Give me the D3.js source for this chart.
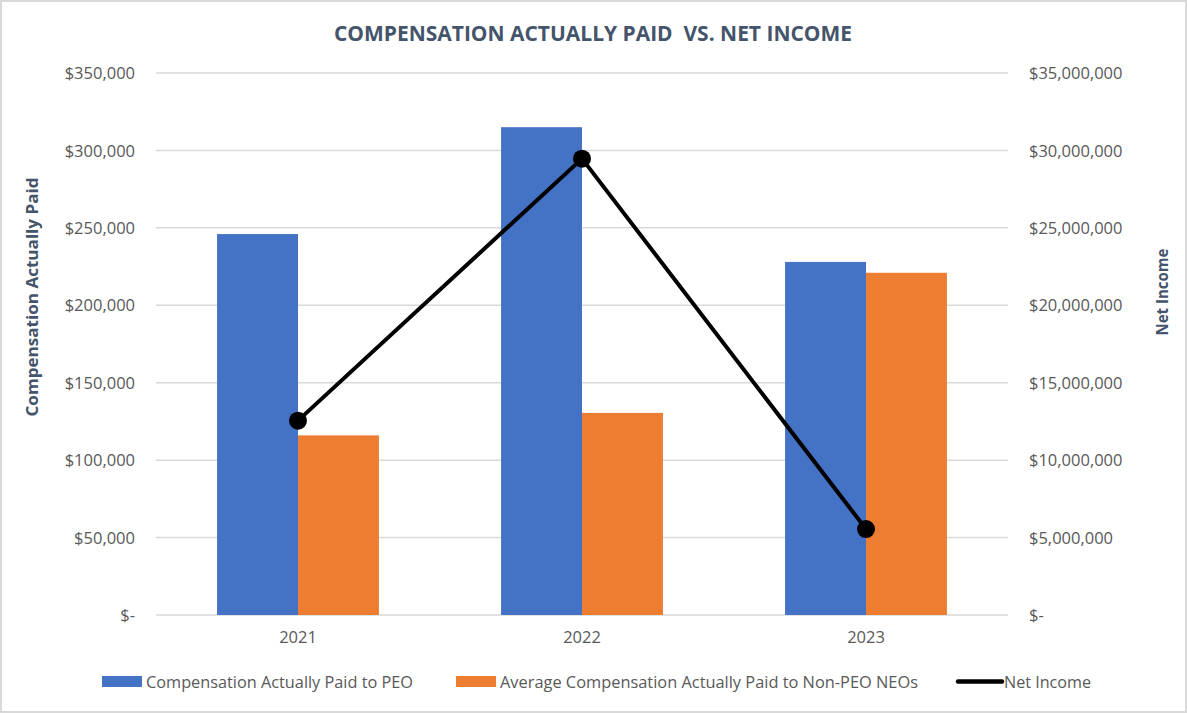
<!DOCTYPE html>
<html><head><meta charset="utf-8">
<script src="https://cdn.jsdelivr.net/npm/d3@7"></script>
<style>html,body{margin:0;padding:0;background:#fff;}svg{display:block;}</style>
</head><body>
<svg id="chart" width="1187" height="713"></svg>
<script>
const categories = ["2021", "2022", "2023"];
const peoValues = [246000, 315000, 228000];
const nonPeoValues = [116000, 130500, 221000];
const netIncome = [12550000, 29470000, 5550000];
const leftTicks = [0, 50000, 100000, 150000, 200000, 250000, 300000, 350000];
const rightTicks = [0, 5000000, 10000000, 15000000, 20000000, 25000000, 30000000, 35000000];
const seriesNames = ["Compensation Actually Paid to PEO", "Average Compensation Actually Paid to Non-PEO NEOs", "Net Income"];

const svg = d3.select("#chart");
const W = 1187, H = 713;
const m = {left: 156, right: 1008, top: 73, bottom: 615};
const font = "'Open Sans', sans-serif";
const tickColor = "#595959";
const titleColor = "#44546A";

svg.append("rect").attr("x", 1).attr("y", 1).attr("width", W - 2).attr("height", H - 2)
  .attr("fill", "#fff").attr("stroke", "#d9d9d9").attr("stroke-width", 2);

const x = d3.scaleBand().domain(categories).range([m.left, m.right]).paddingInner(0.43).paddingOuter(0.215);
const xs = d3.scaleBand().domain([0, 1]).range([0, x.bandwidth()]);
const yL = d3.scaleLinear().domain([0, 350000]).range([m.bottom, m.top]);
const yR = d3.scaleLinear().domain([0, 35000000]).range([m.bottom, m.top]);

// gridlines
svg.append("g").selectAll("line").data(leftTicks).join("line")
  .attr("x1", m.left).attr("x2", m.right)
  .attr("y1", d => yL(d)).attr("y2", d => yL(d))
  .attr("stroke", "#d9d9d9").attr("stroke-width", 1.5);

const fmt = d => d === 0 ? "$-" : "$" + d3.format(",")(d);

// left axis
const gL = svg.append("g").attr("transform", `translate(${m.left - 21},0)`)
  .call(d3.axisLeft(yL).tickValues(leftTicks).tickFormat(fmt).tickSize(0).tickPadding(0));
gL.select(".domain").remove();
gL.selectAll("text").attr("font-family", font).attr("font-size", 16.5).attr("fill", tickColor).attr("dy", "0.34em");

// right axis
const gR = svg.append("g").attr("transform", `translate(${m.right + 21},0)`)
  .call(d3.axisRight(yR).tickValues(rightTicks).tickFormat(fmt).tickSize(0).tickPadding(0));
gR.select(".domain").remove();
gR.selectAll("text").attr("font-family", font).attr("font-size", 16.5).attr("fill", tickColor).attr("dy", "0.34em");

// x axis
const gX = svg.append("g").attr("transform", `translate(0,${m.bottom})`)
  .call(d3.axisBottom(x).tickSize(0).tickPadding(16));
gX.select(".domain").remove();
gX.selectAll("text").attr("font-family", font).attr("font-size", 16.5).attr("fill", tickColor);

// bars
const gB = svg.append("g");
gB.selectAll("rect.peo").data(categories).join("rect").attr("class", "peo")
  .attr("x", (d) => x(d) + xs(0)).attr("width", xs.bandwidth())
  .attr("y", (d, i) => yL(peoValues[i])).attr("height", (d, i) => yL(0) - yL(peoValues[i]))
  .attr("fill", "#4472C4");
gB.selectAll("rect.non").data(categories).join("rect").attr("class", "non")
  .attr("x", (d) => x(d) + xs(1)).attr("width", xs.bandwidth())
  .attr("y", (d, i) => yL(nonPeoValues[i])).attr("height", (d, i) => yL(0) - yL(nonPeoValues[i]))
  .attr("fill", "#ED7D31");

// line
const pts = categories.map((c, i) => [x(c) + x.bandwidth() / 2, yR(netIncome[i])]);
svg.append("path").attr("d", d3.line()(pts)).attr("fill", "none").attr("stroke", "#000").attr("stroke-width", 4)
  .attr("stroke-linejoin", "round");
svg.append("g").selectAll("circle").data(pts).join("circle")
  .attr("cx", d => d[0]).attr("cy", d => d[1]).attr("r", 9).attr("fill", "#000");

// title
svg.append("text").attr("x", 593).attr("y", 41).attr("text-anchor", "middle")
  .style("white-space", "pre").attr("xml:space", "preserve")
  .attr("font-family", font).attr("font-weight", "bold").attr("font-size", 22).attr("fill", titleColor)
  .attr("textLength", 518).attr("lengthAdjust", "spacingAndGlyphs")
  .text("COMPENSATION ACTUALLY PAID  VS. NET INCOME");

// axis titles
svg.append("text").attr("transform", "translate(38,297) rotate(-90)").attr("text-anchor", "middle")
  .attr("font-family", font).attr("font-weight", "bold").attr("font-size", 16.5).attr("fill", titleColor)
  .attr("textLength", 239).attr("lengthAdjust", "spacingAndGlyphs")
  .text("Compensation Actually Paid");
svg.append("text").attr("transform", "translate(1168,292) rotate(-90)").attr("text-anchor", "middle")
  .attr("font-family", font).attr("font-weight", "bold").attr("font-size", 16.5).attr("fill", titleColor)
  .attr("textLength", 87).attr("lengthAdjust", "spacingAndGlyphs")
  .text("Net Income");

// legend
const lg = svg.append("g");
const legendItems = [
  {name: seriesNames[0], type: "rect", color: "#4472C4", sx: 102, sw: 40, tx: 146, tw: 267},
  {name: seriesNames[1], type: "rect", color: "#ED7D31", sx: 456, sw: 40, tx: 500, tw: 418},
  {name: seriesNames[2], type: "line", color: "#000", sx: 958, sw: 44, tx: 1004, tw: 87}
];
legendItems.forEach(it => {
  if (it.type === "rect") {
    lg.append("rect").attr("x", it.sx).attr("y", 676).attr("width", it.sw).attr("height", 11).attr("fill", it.color);
  } else {
    lg.append("line").attr("x1", it.sx).attr("x2", it.sx + it.sw).attr("y1", 681.5).attr("y2", 681.5)
      .attr("stroke", it.color).attr("stroke-width", 4.5).attr("stroke-linecap", "round");
  }
  lg.append("text").attr("x", it.tx).attr("y", 687.5).attr("font-family", font).attr("font-size", 16.5)
    .attr("fill", tickColor).attr("textLength", it.tw).attr("lengthAdjust", "spacingAndGlyphs").text(it.name);
});
</script>
</body></html>
